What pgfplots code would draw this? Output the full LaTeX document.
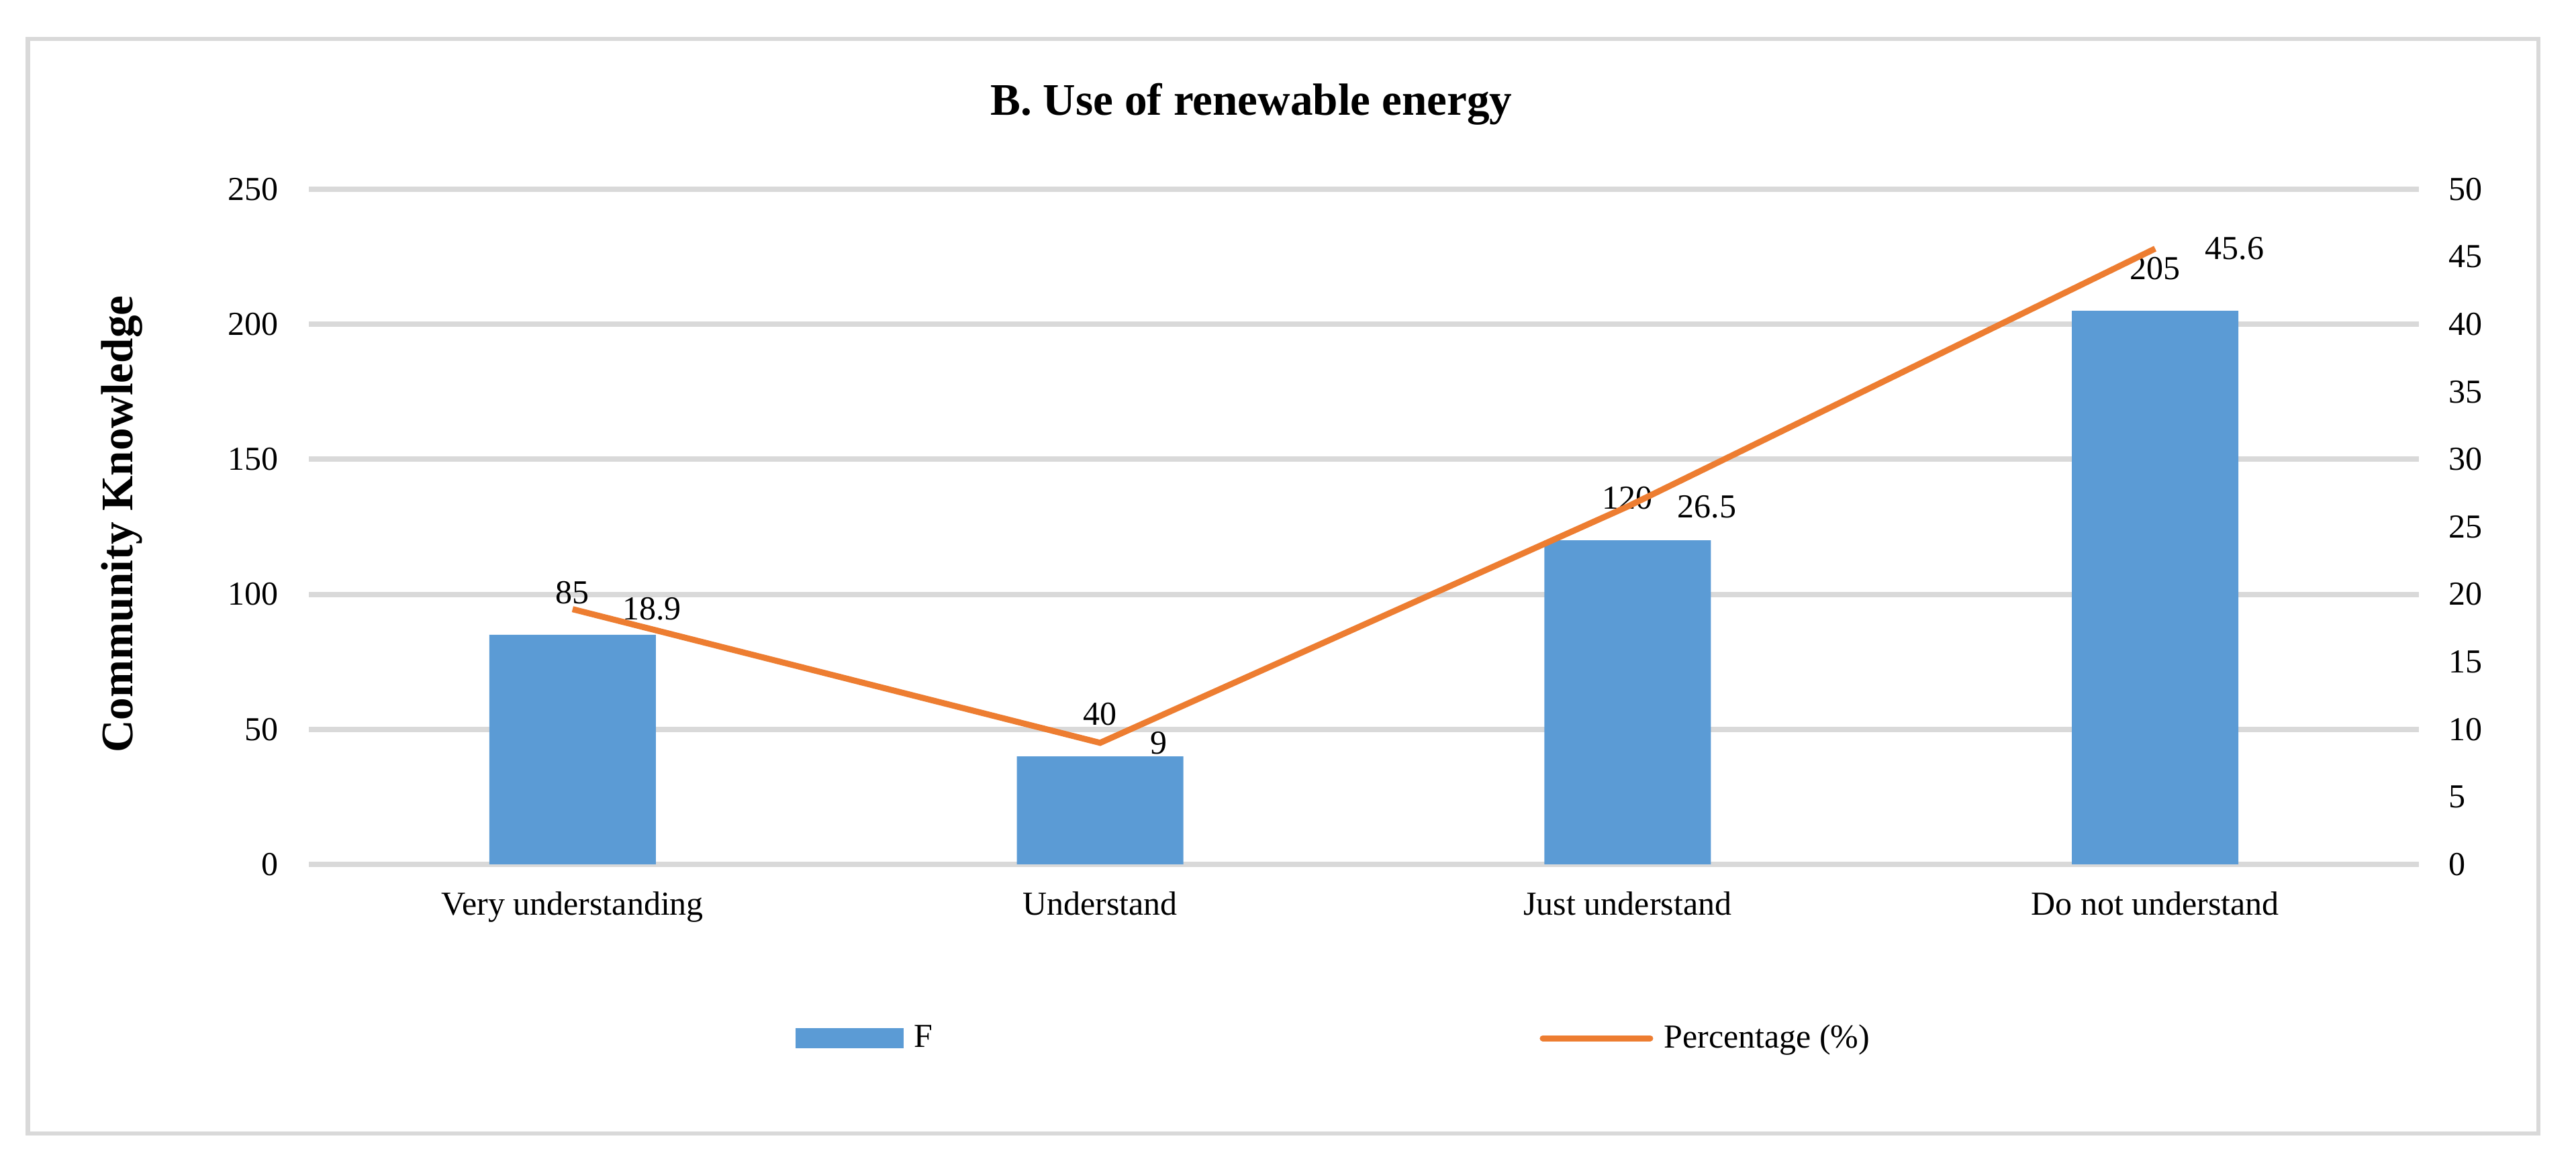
\documentclass[border=0pt]{standalone}
\usepackage{pgfplots}
\pgfplotsset{compat=1.18}
\usepackage{fontspec}
\setmainfont{Liberation Serif}

\definecolor{barblue}{HTML}{5B9BD5}
\definecolor{lineorange}{HTML}{ED7D31}
\definecolor{gridgray}{HTML}{D9D9D9}
\newcommand{\lbl}{\fontsize{12.5}{15}\selectfont}
\newcommand{\ttl}{\fontsize{16.8}{20}\selectfont\bfseries}

\begin{document}
\begin{tikzpicture}
\useasboundingbox (0,0) rectangle (959.25pt,432.5pt);
\fill[white] (0,0) rectangle (959.25pt,432.5pt);
\draw[gridgray, line width=1.7pt] (10.4pt,10.25pt) rectangle (945.25pt,418pt);
\node[font=\ttl, anchor=base, inner sep=0pt] at (466pt,389.5pt) {B. Use of renewable energy};
\node[font=\ttl, rotate=90, inner sep=0pt] at (45.5pt,237.2pt) {Community Knowledge};

\pgfplotsset{base/.style={
    at={(115pt,110.5pt)}, anchor=south west, scale only axis,
    width=785.75pt, height=251.5pt, xmin=-0.5, xmax=3.5,
    axis line style={draw=none}, major tick length=0pt, clip=false,
    tick label style={font=\lbl},
    /pgf/number format/assume math mode=true}}

% F (bars, left axis)
\begin{axis}[base,
    ymin=0, ymax=250, ytick={0,50,...,250},
    ymajorgrids, grid style={gridgray, line width=2pt},
    xtick={0,1,2,3},
    xticklabels={Very understanding, Understand, Just understand, Do not understand},
    xticklabel style={anchor=base, inner sep=0pt, yshift=-19pt},
    yticklabel style={anchor=east, inner sep=0pt, xshift=-11.25pt}]
\addplot[ybar, bar width=62pt, fill=barblue, draw=none,
    nodes near coords,
    nodes near coords style={font=\lbl, text=black, anchor=center, inner sep=0pt, yshift=15.75pt}]
    coordinates {(0,85) (1,40) (2,120) (3,205)};
\end{axis}

% Percentage (line, right axis)
\begin{axis}[base,
    ymin=0, ymax=50, ytick={0,5,...,50}, yticklabel pos=right,
    xtick=\empty,
    yticklabel style={anchor=west, inner sep=0pt, xshift=11pt},
    legend columns=2,
    legend style={draw=none, fill=none, inner sep=0pt, outer sep=0pt,
        at={(0.2307,-0.2575)}, anchor=west, font=\lbl,
        nodes={inner sep=0pt}, column sep=4pt,
        /tikz/every even column/.append style={column sep=226pt}}]
\addlegendimage{legend image code/.code={\fill[barblue] (0pt,-3.5pt) rectangle (39.75pt,3.5pt);}}
\addlegendentry{F}
\addplot[lineorange, line width=2.25pt, no markers,
    legend image code/.code={\draw[lineorange, line width=2.25pt, line cap=round] (1.1pt,0pt) -- (41.1pt,0pt);},
    nodes near coords,
    nodes near coords style={font=\lbl, text=black, anchor=west, inner sep=0pt, xshift=17.5pt}]
    coordinates {(0,18.9) (1,9) (2,26.5) (3,45.6)};
\addlegendentry{Percentage (\%)}
\end{axis}
\end{tikzpicture}
\end{document}
